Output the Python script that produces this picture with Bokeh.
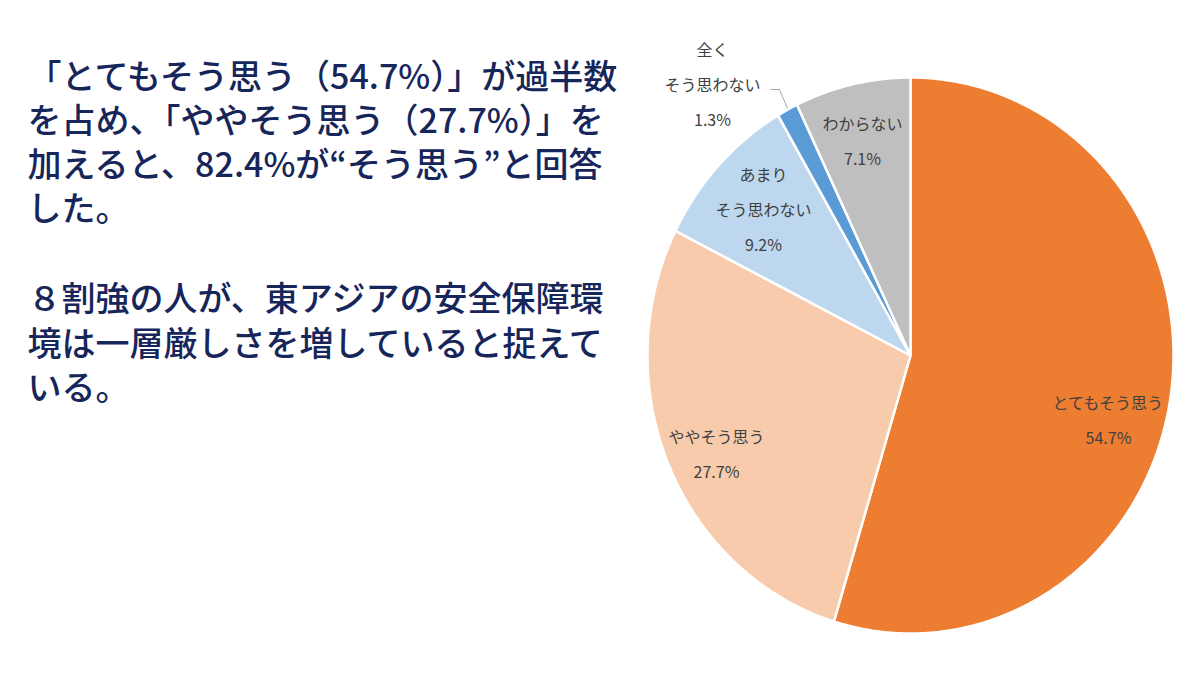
import numpy as np
from bokeh.plotting import figure
from bokeh.models import Range1d, ColumnDataSource
from bokeh.core.properties import value
from bokeh.embed import file_html
from bokeh.resources import INLINE

# data
categories = ["とてもそう思う", "ややそう思う", "あまりそう思わない", "全くそう思わない", "わからない"]
shares = [54.7, 27.7, 9.2, 1.3, 7.1]
colors = ["#ED7D31", "#F7CBAC", "#BDD7EE", "#5B9BD5", "#BFBFBF"]

# slice labels (lines of text, placed by hand like the original)
label_lines = [
    ["とてもそう思う", "54.7%"],
    ["ややそう思う", "27.7%"],
    ["あまり", "そう思わない", "9.2%"],
    ["全く", "そう思わない", "1.3%"],
    ["わからない", "7.1%"],
]
label_pos = [(1108, 401), (716, 435), (763, 173), (712, 48), (862, 122)]

comment_lines = [
    "「とてもそう思う（54.7%）」が過半数",
    "を占め、「ややそう思う（27.7%）」を",
    "加えると、82.4%が“そう思う”と回答",
    "した。",
    "",
    "８割強の人が、東アジアの安全保障環",
    "境は一層厳しさを増していると捉えて",
    "いる。",
]

W, H = 1184, 659
p = figure(width=W, height=H, x_range=Range1d(0, W), y_range=Range1d(H, 0),
           output_backend="svg", toolbar_location=None, min_border=0)
p.axis.visible = False
p.grid.visible = False
p.outline_line_color = None

# pie (slightly taller than wide, as in the picture)
cx, cy, rx, ry = 910, 355, 263, 278
bounds = np.concatenate([[0], np.cumsum(shares)]) / 100 * 2 * np.pi
xs, ys = [], []
for a0, a1 in zip(bounds[:-1], bounds[1:]):
    t = np.linspace(a0, a1, max(int((a1 - a0) * 80), 4))
    xs.append(np.concatenate([[cx], cx + rx * np.sin(t)]).tolist())
    ys.append(np.concatenate([[cy], cy - ry * np.cos(t)]).tolist())
pie = ColumnDataSource(dict(xs=xs, ys=ys, color=colors, cat=categories))
p.patches("xs", "ys", source=pie, fill_color="color", line_color="white", line_width=2.5)

# slice labels
lx, ly, lt = [], [], []
for lines, (x0, y0) in zip(label_lines, label_pos):
    for i, t in enumerate(lines):
        lx.append(x0)
        ly.append(y0 + i * 35)
        lt.append(t)
p.text(lx, ly, text=lt, text_font=value("Noto Sans CJK JP"), text_font_size="16px",
       text_color="#404040", text_align="center", text_baseline="middle")

# leader line to the 1.3% slice
p.line([770, 779, 787], [89, 89, 108], line_color="#A6A6A6", line_width=1)

# commentary on the left
cy_lines = [74, 118, 162, 206, 0, 296, 341, 385]
tx, ty, tt = [], [], []
for t, y in zip(comment_lines, cy_lines):
    if t:
        tx.append(27)
        ty.append(y)
        tt.append(t)
p.text(tx, ty, text=tt, text_font=value("'Noto Sans CJK JP Medium', 'Noto Sans CJK JP'"),
       text_font_size="34px", text_color="#17265A", text_align="left", text_baseline="middle")

open("out.html", "w").write(file_html(p, INLINE))
